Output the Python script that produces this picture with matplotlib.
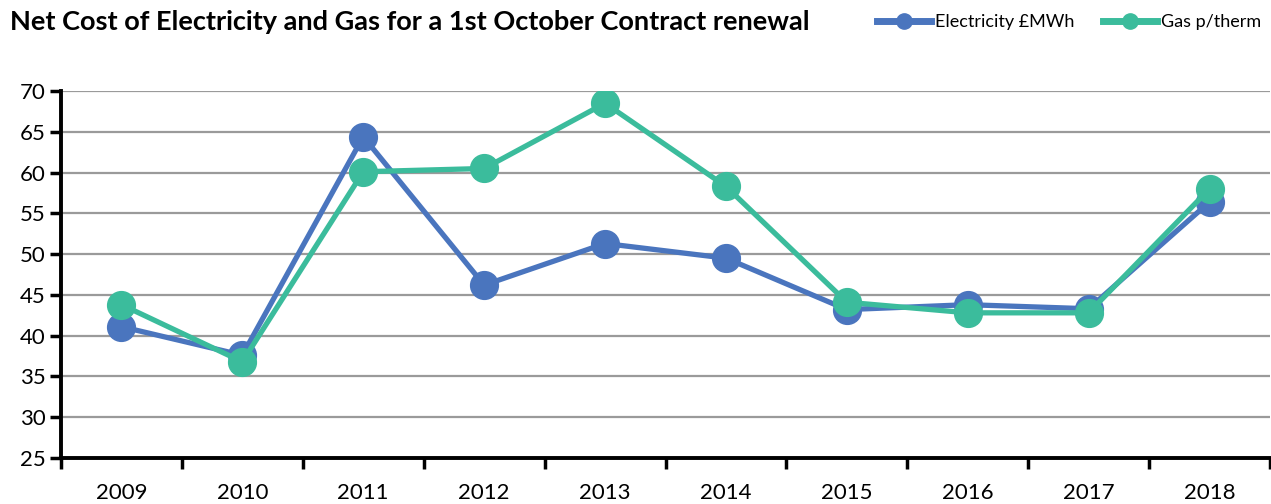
import matplotlib
matplotlib.use('Agg')
import matplotlib.pyplot as plt
import numpy as np

years = ["2009", "2010", "2011", "2012", "2013", "2014", "2015", "2016", "2017", "2018"]
electricity = [41.1, 37.6, 64.4, 46.2, 51.3, 49.5, 43.2, 43.8, 43.3, 56.4]
gas = [43.8, 36.8, 60.1, 60.5, 68.5, 58.3, 44.1, 42.8, 42.8, 58.0]

BLUE = "#4a75be"
GREEN = "#3bbc9c"

plt.rcParams['font.family'] = ['Lato', 'DejaVu Sans']

fig = plt.figure(figsize=(12.71, 5.04), dpi=100, facecolor="white")
ax = fig.add_axes([61 / 1271, 1 - 458 / 504, 1209 / 1271, 367 / 504])

x = np.arange(len(years))
ax.plot(x, electricity, color=BLUE, linewidth=3.8, marker="o", markersize=20,
        label="Electricity £MWh", zorder=3)
ax.plot(x, gas, color=GREEN, linewidth=3.8, marker="o", markersize=20,
        label="Gas p/therm", zorder=4)

ax.set_ylim(25, 70)
ax.set_xlim(-0.5, len(years) - 0.5)
ax.set_yticks(range(25, 71, 5))
ax.yaxis.grid(True, color="#9a9a9a", linewidth=1.6)
ax.set_axisbelow(True)

# category boundaries carry the ticks, labels sit at the centres
ax.set_xticks(np.arange(-0.5, len(years), 1.0))
ax.set_xticklabels([])
ax.set_xticks(x, minor=True)
ax.set_xticklabels(years, minor=True)
ax.tick_params(axis="x", which="minor", length=0, pad=18, labelsize=16)
ax.tick_params(axis="x", which="major", length=8, width=2.5, direction="out")
ax.tick_params(axis="y", length=8, width=2.5, labelsize=16, pad=3)

for side in ["top", "right"]:
    ax.spines[side].set_visible(False)
for side in ["left", "bottom"]:
    ax.spines[side].set_linewidth(2.8)
    ax.spines[side].set_color("black")

fig.text(10 / 1271, 1 - 22 / 504, "Net Cost of Electricity and Gas for a 1st October Contract renewal",
         fontsize=19.5, fontweight="bold", va="center", ha="left")

leg = fig.legend(loc="center right", bbox_to_anchor=(1268 / 1271, 1 - 22 / 504), ncol=2,
                 frameon=False, fontsize=13, markerscale=0.55, handlelength=3.0,
                 handletextpad=0.2, columnspacing=1.6, borderaxespad=0)
for line in leg.get_lines():
    line.set_linewidth(5)

plt.savefig("out.png", dpi=100, facecolor="white")
